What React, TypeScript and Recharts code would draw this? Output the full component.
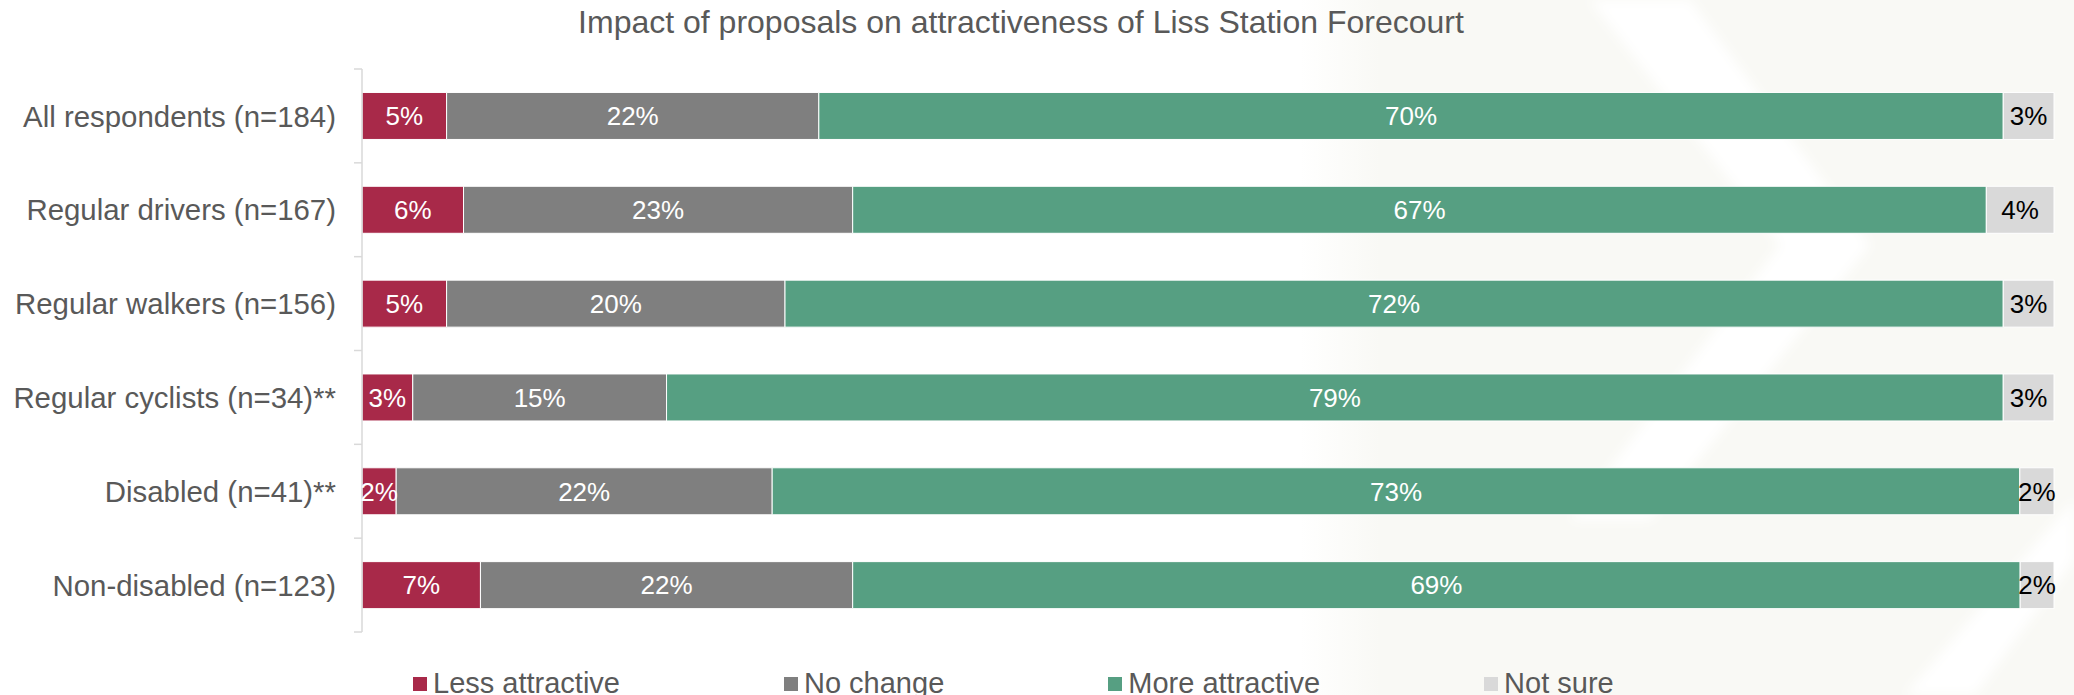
import React from "react";
import { BarChart, Bar, XAxis, YAxis, LabelList, Legend } from "recharts";

// Respondent groups, top to bottom
const categories = [
  "All respondents (n=184)",
  "Regular drivers (n=167)",
  "Regular walkers (n=156)",
  "Regular cyclists (n=34)**",
  "Disabled (n=41)**",
  "Non-disabled (n=123)",
];

// Share of each group (%) giving each response
const lessAttractive = [5, 6, 5, 3, 2, 7];
const noChange = [22, 23, 20, 15, 22, 22];
const moreAttractive = [70, 67, 72, 79, 73, 69];
const notSure = [3, 4, 3, 3, 2, 2];

const seriesKeys = ["less", "same", "more", "unsure"];
const seriesNames = ["Less attractive", "No change", "More attractive", "Not sure"];
const seriesColors = ["#A82949", "#7F7F7F", "#569F82", "#D9D9D9"];
const labelColors = ["#FFFFFF", "#FFFFFF", "#FFFFFF", "#000000"];

const title = "Impact of proposals on attractiveness of Liss Station Forecourt";

const data = categories.map((name, i) => ({
  name,
  less: lessAttractive[i],
  same: noChange[i],
  more: moreAttractive[i],
  unsure: notSure[i],
}));

const WIDTH = 2074;
const HEIGHT = 695;
const MARGIN = { top: 69, right: 20, bottom: 63, left: 0 };
const AXIS_WIDTH = 362;
const BAND = (HEIGHT - MARGIN.top - MARGIN.bottom) / categories.length;
const FONT = "'Liberation Sans', Arial, Helvetica, sans-serif";
const TEXT_GREY = "#595959";
const AXIS_GREY = "#D9D9D9";

// Category label plus Excel-style tick marks on the band boundaries
function CategoryTick(props: any) {
  const { x, y, payload, index } = props;
  const axisX = AXIS_WIDTH;
  const half = BAND / 2;
  return (
    <g>
      <line x1={axisX - 8} x2={axisX} y1={y - half} y2={y - half} stroke={AXIS_GREY} strokeWidth={1.5} />
      {index === categories.length - 1 && (
        <line x1={axisX - 8} x2={axisX} y1={y + half} y2={y + half} stroke={AXIS_GREY} strokeWidth={1.5} />
      )}
      <text x={x} y={y} dy="0.36em" textAnchor="end" fill={TEXT_GREY} fontSize={29.4} fontFamily={FONT}>
        {payload.value}
      </text>
    </g>
  );
}

function LegendContent() {
  return (
    <div style={{ display: "flex", gap: 164, fontFamily: FONT, fontSize: 29, color: TEXT_GREY, lineHeight: "33px", whiteSpace: "nowrap" }}>
      {seriesNames.map((n, i) => (
        <div key={n} style={{ display: "flex", alignItems: "center" }}>
          <span style={{ display: "inline-block", width: 14, height: 14, background: seriesColors[i], marginRight: 6 }} />
          <span>{n}</span>
        </div>
      ))}
    </div>
  );
}

// Soft slide-style backdrop on the right-hand side
function Backdrop() {
  return (
    <svg width={WIDTH} height={HEIGHT} style={{ position: "absolute", left: 0, top: 0 }}>
      <defs>
        <filter id="soft" x="-10%" y="-10%" width="120%" height="120%">
          <feGaussianBlur stdDeviation="6" />
        </filter>
        <linearGradient id="tint" x1="0" x2="1" y1="0" y2="0">
          <stop offset="0" stopColor="#FFFFFF" />
          <stop offset="1" stopColor="#F9F9F5" />
        </linearGradient>
      </defs>
      <rect x={0} y={0} width={WIDTH} height={HEIGHT} fill="#FFFFFF" />
      <rect x={1300} y={0} width={80} height={HEIGHT} fill="url(#tint)" />
      <rect x={1380} y={0} width={WIDTH - 1380} height={HEIGHT} fill="#F9F9F5" />
      <g filter="url(#soft)">
        <polygon points="1590,0 1690,0 1870,245 1650,520 1570,520 1780,245" fill="#FFFFFF" />
        <polygon points="2074,500 2074,560 1975,695 1905,695" fill="#FFFFFF" />
      </g>
    </svg>
  );
}

export default function App() {
  return (
    <div style={{ position: "absolute", left: 0, top: 0, width: WIDTH, height: HEIGHT, overflow: "hidden" }}>
      <Backdrop />
      <div style={{ position: "absolute", left: 0, top: 0 }}>
        <BarChart
          width={WIDTH}
          height={HEIGHT}
          data={data}
          layout="vertical"
          margin={MARGIN}
          stackOffset="expand"
          barCategoryGap="25%"
        >
          <text x={1021} y={32.5} textAnchor="middle" fill={TEXT_GREY} fontSize={32} fontFamily={FONT}>
            {title}
          </text>
          <XAxis type="number" hide domain={[0, 1]} />
          <YAxis
            type="category"
            dataKey="name"
            width={AXIS_WIDTH}
            axisLine={{ stroke: AXIS_GREY, strokeWidth: 1.5 }}
            tickLine={false}
            tickSize={8}
            tickMargin={18}
            interval={0}
            tick={<CategoryTick />}
          />
          {seriesKeys.map((k, i) => (
            <Bar
              key={k}
              dataKey={k}
              name={seriesNames[i]}
              stackId="a"
              fill={seriesColors[i]}
              stroke="#FFFFFF"
              strokeWidth={1}
              isAnimationActive={false}
            >
              <LabelList
                dataKey={k}
                position="center"
                fill={labelColors[i]}
                fontSize={26}
                fontFamily={FONT}
                formatter={(v: any) => `${v}%`}
              />
            </Bar>
          ))}
          <Legend
            layout="horizontal"
            verticalAlign="middle"
            align="center"
            wrapperStyle={{ left: 413, top: 667, width: 1600 }}
            content={<LegendContent />}
          />
        </BarChart>
      </div>
    </div>
  );
}
